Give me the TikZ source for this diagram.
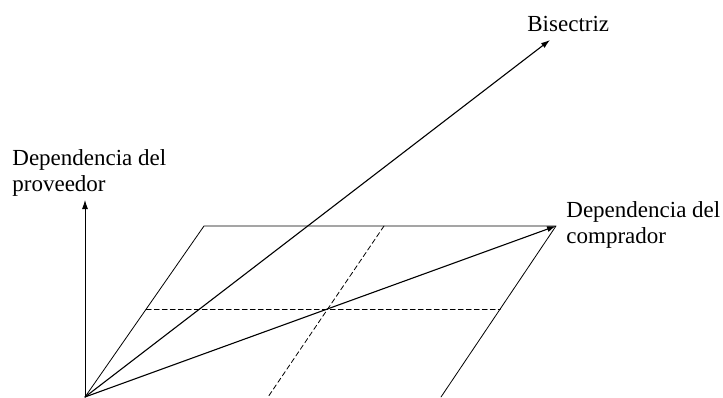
\documentclass[tikz,border=0pt]{standalone}
\usepackage{fontspec}
\setmainfont{Liberation Serif}
\usetikzlibrary{calc,arrows.meta}
\begin{document}
\begin{tikzpicture}[x=1pt,y=1pt,line width=.8pt,>={Latex[length=9pt,width=6pt]},
  line cap=round,line join=round,font=\fontsize{23}{26}\selectfont]
  \useasboundingbox (0,0) rectangle (723,397);
  % corners of the region
  \coordinate (o) at (85,0);
  \coordinate (ytop) at (85,197);
  \coordinate (tl) at (204,171);
  \coordinate (tr) at (556,171);
  \coordinate (br) at (441,0);
  \coordinate (bis) at (550,357);
  \coordinate (dt) at (384,171);
  \coordinate (db) at (268,0);
  % outline
  \draw[->] (o)--(ytop);
  \draw (o)--(tl)--(tr)--(br);
  % dashed guides
  \draw[dash pattern=on 5pt off 3pt] ($(o)!0.515!(tl)$)--($(br)!0.515!(tr)$);
  \draw[dash pattern=on 5pt off 3pt] (dt)--(db);
  % arrows from the origin
  \draw[->,line width=1.1pt] (o)--(bis);
  \draw[->,line width=1.1pt] (o)--(tr);
  \node[anchor=west,inner sep=0pt] (lbis) at (527,373) {Bisectriz};
  \node[anchor=west,align=left,inner sep=0pt] (lcomp) at (566,172.5)
    {Dependencia del\\comprador};
  \node[anchor=west,align=left,inner sep=0pt] (lprov) at (12,224.5)
    {Dependencia del\\proveedor};
\end{tikzpicture}
\end{document}
